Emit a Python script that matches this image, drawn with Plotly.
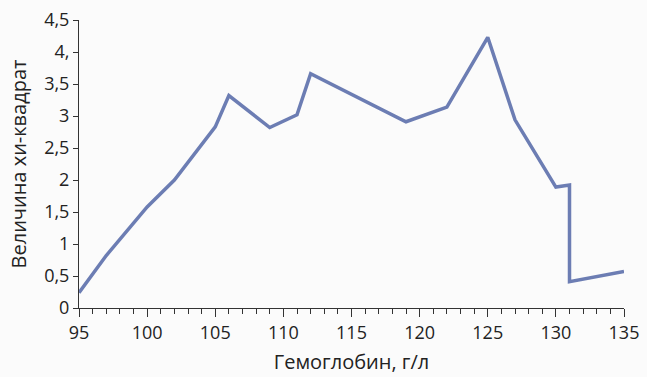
import plotly.graph_objects as go

hemoglobin = [95, 97, 100, 102, 105, 106, 109, 111, 112, 119, 122, 125, 127, 130, 131, 131, 135]
chi_square = [0.24, 0.82, 1.58, 2.0, 2.83, 3.32, 2.82, 3.02, 3.66, 2.91, 3.14, 4.23, 2.94, 1.89, 1.92, 0.41, 0.57]

x_ticks = [95, 100, 105, 110, 115, 120, 125, 130, 135]
y_tickvals = [0, 0.5, 1, 1.5, 2, 2.5, 3, 3.5, 4, 4.5]
y_ticktext = ["0", "0,5", "1", "1,5", "2", "2,5", "3", "3,5", "4,", "4,5"]

font_family = "Open Sans, Noto Sans, sans-serif"

fig = go.Figure(go.Scatter(
    x=hemoglobin, y=chi_square, mode="lines",
    line=dict(color="#6c7db3", width=3.5),
))

fig.update_layout(
    width=647, height=377,
    margin=dict(l=79, r=23, t=20, b=69),
    paper_bgcolor="#fbfbfb", plot_bgcolor="#fbfbfb",
    showlegend=False,
    font=dict(family=font_family, size=18, color="#222222"),
)
fig.update_xaxes(
    range=[95, 135], tickvals=x_ticks, ticks="outside", ticklen=8, tickwidth=1,
    tickcolor="#333", showline=True, linecolor="#333", linewidth=1,
    showgrid=False, zeroline=False, automargin=False,
    minor=dict(dtick=1, tick0=95, ticks="outside", ticklen=5, tickcolor="#333", showgrid=False),
    tickfont=dict(size=18),
    title=dict(text="Гемоглобин, г/л", font=dict(size=20), standoff=12),
)
fig.update_yaxes(
    range=[0, 4.5], tickvals=y_tickvals, ticktext=y_ticktext, ticks="outside",
    ticklen=5, tickwidth=1, tickcolor="#333", showline=True, linecolor="#333",
    linewidth=1, showgrid=False, zeroline=False, automargin=False,
    tickfont=dict(size=18),
    title=dict(text="Величина хи-квадрат", font=dict(size=20), standoff=12),
)

fig.write_html(
    "out.html",
    config={"displayModeBar": False, "staticPlot": True},
    post_script="document.body.style.margin='0';document.body.style.overflow='hidden';",
)
